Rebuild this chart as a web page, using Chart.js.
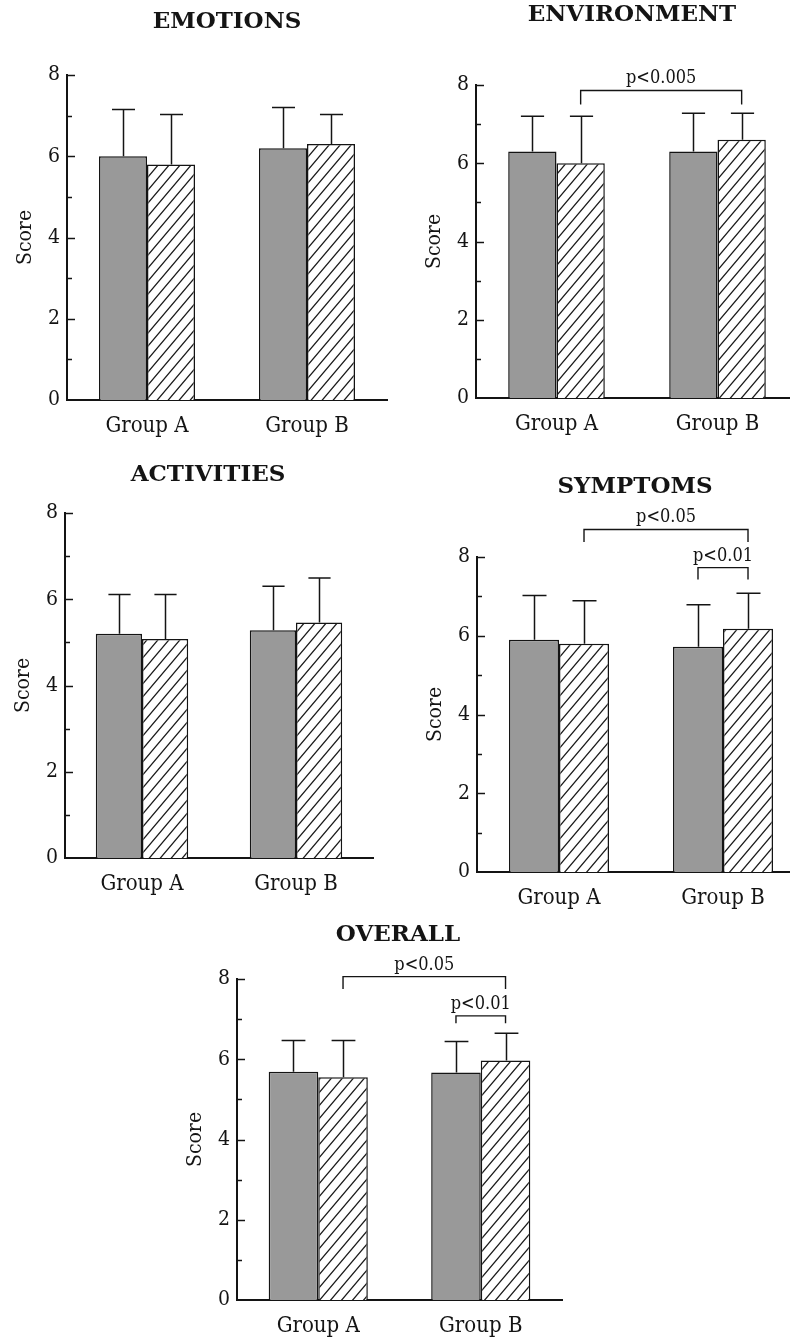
<!DOCTYPE html>
<html>
<head>
<meta charset="utf-8">
<script src="https://cdn.jsdelivr.net/npm/chart.js@4.4.0/dist/chart.umd.min.js"></script>
<style>
  html, body { margin: 0; padding: 0; background: #fff; }
  body { position: relative; width: 790px; height: 1339px; overflow: hidden; }
  canvas { position: absolute; }
</style>
</head>
<body>
<canvas id="emotionsChart"></canvas>
<canvas id="environmentChart"></canvas>
<canvas id="activitiesChart"></canvas>
<canvas id="symptomsChart"></canvas>
<canvas id="overallChart"></canvas>
<script>
// ---- data ----
const groupLabels = ['Group A', 'Group B'];

// EMOTIONS
const emotionsSolid = [6.0, 6.2];
const emotionsSolidSd = [1.15, 1.0];
const emotionsHatched = [5.8, 6.3];
const emotionsHatchedSd = [1.23, 0.73];

// ENVIRONMENT
const environmentSolid = [6.3, 6.3];
const environmentSolidSd = [0.9, 0.98];
const environmentHatched = [6.0, 6.6];
const environmentHatchedSd = [1.2, 0.68];
const environmentBrackets = [
    { from: [0, 1], to: [1, 1], y: 7.86, leg: 7.5, text: 'p<0.005' }
];

// ACTIVITIES
const activitiesSolid = [5.2, 5.28];
const activitiesSolidSd = [0.91, 1.02];
const activitiesHatched = [5.08, 5.46];
const activitiesHatchedSd = [1.03, 1.03];

// SYMPTOMS
const symptomsSolid = [5.9, 5.72];
const symptomsSolidSd = [1.12, 1.07];
const symptomsHatched = [5.8, 6.18];
const symptomsHatchedSd = [1.09, 0.9];
const symptomsBrackets = [
    { from: [0, 1], to: [1, 1], y: 8.7, leg: 8.38, text: 'p<0.05' },
    { from: [1, 0], to: [1, 1], y: 7.73, leg: 7.43, text: 'p<0.01' }
];

// OVERALL
const overallSolid = [5.69, 5.67];
const overallSolidSd = [0.78, 0.77];
const overallHatched = [5.55, 5.97];
const overallHatchedSd = [0.92, 0.68];
const overallBrackets = [
    { from: [0, 1], to: [1, 1], y: 8.06, leg: 7.75, text: 'p<0.05' },
    { from: [1, 0], to: [1, 1], y: 7.08, leg: 6.9, text: 'p<0.01' }
];

// ---- layout ----
const Y_W = 62;      // width kept for the y axis (ticks + "Score")
const X_H = 44;      // height kept for the x labels
const PAD_TOP = 80;  // room for titles and brackets
const SERIF = "'DejaVu Serif Condensed', 'DejaVu Serif', serif";
const TITLE_SERIF = "'DejaVu Serif', serif";
const INK = '#141414';

const panels = [
    { id: 'emotionsChart', title: 'EMOTIONS', solid: emotionsSolid, solidSd: emotionsSolidSd,
      hatched: emotionsHatched, hatchedSd: emotionsHatchedSd, brackets: [],
      area: { left: 67, top: 75, right: 387, bottom: 400 }, titleAt: [227, 22], catPct: 0.6 },
    { id: 'environmentChart', title: 'ENVIRONMENT', solid: environmentSolid, solidSd: environmentSolidSd,
      hatched: environmentHatched, hatchedSd: environmentHatchedSd, brackets: environmentBrackets,
      area: { left: 476, top: 85, right: 798, bottom: 398 }, titleAt: [632, 15], catPct: 0.6 },
    { id: 'activitiesChart', title: 'ACTIVITIES', solid: activitiesSolid, solidSd: activitiesSolidSd,
      hatched: activitiesHatched, hatchedSd: activitiesHatchedSd, brackets: [],
      area: { left: 65, top: 513, right: 373, bottom: 858 }, titleAt: [208, 475], catPct: 0.6 },
    { id: 'symptomsChart', title: 'SYMPTOMS', solid: symptomsSolid, solidSd: symptomsSolidSd,
      hatched: symptomsHatched, hatchedSd: symptomsHatchedSd, brackets: symptomsBrackets,
      area: { left: 477, top: 557, right: 805, bottom: 872 }, titleAt: [635, 487], catPct: 0.61 },
    { id: 'overallChart', title: 'OVERALL', solid: overallSolid, solidSd: overallSolidSd,
      hatched: overallHatched, hatchedSd: overallHatchedSd, brackets: overallBrackets,
      area: { left: 237, top: 979, right: 562, bottom: 1300 }, titleAt: [398, 935], catPct: 0.61 }
];

// diagonal hatch fill like the printed figure
function makeHatch() {
    const w = 11, h = 13;
    const c = document.createElement('canvas');
    c.width = w; c.height = h;
    const g = c.getContext('2d');
    g.fillStyle = '#fff';
    g.fillRect(0, 0, w, h);
    g.strokeStyle = '#1c1c1c';
    g.lineWidth = 1.3;
    g.beginPath();
    g.moveTo(-w, 2 * h); g.lineTo(2 * w, -h);
    g.moveTo(-w, h); g.lineTo(w, -h);
    g.moveTo(0, 2 * h); g.lineTo(2 * w, 0);
    g.stroke();
    return g.createPattern(c, 'repeat');
}
const hatch = makeHatch();

// inward ticks, error bars, significance brackets and the panel title
function makeExtras(p, canvasLeft, canvasTop) {
    return {
        id: 'extras',
        afterDraw(chart) {
            const ctx = chart.ctx;
            const area = chart.chartArea;
            const yScale = chart.scales.y;
            ctx.save();
            ctx.strokeStyle = INK;
            ctx.fillStyle = INK;

            // y ticks pointing into the plot
            ctx.lineWidth = 1.5;
            yScale.ticks.forEach(t => {
                if (t.value === 0) return;
                const y = Math.round(yScale.getPixelForValue(t.value)) + 0.5;
                const len = t.value % 2 === 0 ? 8 : 5;
                ctx.beginPath();
                ctx.moveTo(area.left, y);
                ctx.lineTo(area.left + len, y);
                ctx.stroke();
            });

            // upper error bars (mean + SD)
            ctx.lineWidth = 1.5;
            chart.data.datasets.forEach((ds, d) => {
                const meta = chart.getDatasetMeta(d);
                meta.data.forEach((bar, i) => {
                    const top = yScale.getPixelForValue(ds.data[i] + ds.sd[i]);
                    const x = Math.round(bar.x) + 0.5;
                    const half = bar.width * 0.24;
                    ctx.beginPath();
                    ctx.moveTo(x, bar.y);
                    ctx.lineTo(x, top);
                    ctx.moveTo(x - half, top);
                    ctx.lineTo(x + half, top);
                    ctx.stroke();
                });
            });

            // significance brackets
            ctx.font = '18px ' + SERIF;
            ctx.textAlign = 'center';
            ctx.textBaseline = 'alphabetic';
            p.brackets.forEach(b => {
                const x1 = chart.getDatasetMeta(b.from[1]).data[b.from[0]].x;
                const x2 = chart.getDatasetMeta(b.to[1]).data[b.to[0]].x;
                const yl = yScale.getPixelForValue(b.y);
                const yg = yScale.getPixelForValue(b.leg);
                ctx.lineWidth = 1.4;
                ctx.beginPath();
                ctx.moveTo(x1, yg);
                ctx.lineTo(x1, yl);
                ctx.lineTo(x2, yl);
                ctx.lineTo(x2, yg);
                ctx.stroke();
                ctx.fillText(b.text, (x1 + x2) / 2, yl - 7);
            });

            // title
            ctx.textBaseline = 'middle';
            ctx.font = 'bold 23px ' + TITLE_SERIF;
            ctx.fillText(p.title, p.titleAt[0] - canvasLeft, p.titleAt[1] - canvasTop);
            ctx.restore();
        }
    };
}

panels.forEach(p => {
    const canvas = document.getElementById(p.id);
    const left = p.area.left - Y_W;
    const top = p.area.top - PAD_TOP;
    const width = p.area.right + 4 - left;
    const height = p.area.bottom + X_H - top;
    canvas.width = width;
    canvas.height = height;
    canvas.style.left = left + 'px';
    canvas.style.top = top + 'px';
    canvas.style.width = width + 'px';
    canvas.style.height = height + 'px';

    new Chart(canvas, {
        type: 'bar',
        data: {
            labels: groupLabels,
            datasets: [
                { data: p.solid, sd: p.solidSd, backgroundColor: '#999999', borderColor: INK,
                  borderWidth: 1.5, categoryPercentage: p.catPct, barPercentage: 1 },
                { data: p.hatched, sd: p.hatchedSd, backgroundColor: hatch, borderColor: INK,
                  borderWidth: 1.5, categoryPercentage: p.catPct, barPercentage: 1 }
            ]
        },
        options: {
            responsive: false,
            animation: false,
            layout: { padding: { top: PAD_TOP, right: 4, left: 0, bottom: 0 } },
            plugins: { legend: { display: false }, tooltip: { enabled: false } },
            scales: {
                x: {
                    grid: { display: false, drawTicks: false },
                    border: { color: INK, width: 2 },
                    ticks: { font: { family: SERIF, size: 22 }, color: INK, padding: 13 },
                    afterFit: s => { s.height = X_H; }
                },
                y: {
                    min: 0,
                    max: 8,
                    grid: { display: false, drawTicks: false },
                    border: { color: INK, width: 2 },
                    ticks: {
                        stepSize: 1,
                        font: { family: SERIF, size: 21 },
                        color: INK,
                        padding: 7,
                        callback: v => (v % 2 === 0 ? v : '')
                    },
                    title: { display: true, text: 'Score', font: { family: SERIF, size: 21 }, color: INK,
                             padding: { top: 8, bottom: 0 } },
                    afterFit: s => { s.width = Y_W; }
                }
            }
        },
        plugins: [makeExtras(p, left, top)]
    });
});
</script>
</body>
</html>
